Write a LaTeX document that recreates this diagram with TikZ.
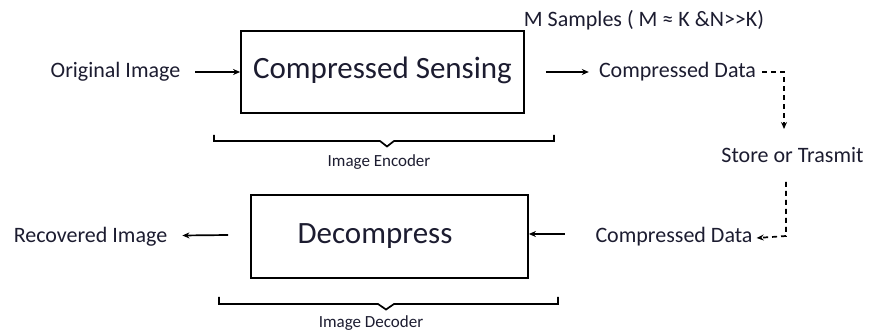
\documentclass[tikz,border=0pt]{standalone}
\usepackage{fontspec}
\setmainfont{Carlito}
\usetikzlibrary{arrows.meta}
\definecolor{txt}{RGB}{28,28,48}
\begin{document}
\begin{tikzpicture}[x=1pt,y=-1pt,
  lbl/.style={inner sep=0pt,text=txt,font=\fontsize{22}{26}\selectfont},
  big/.style={inner sep=0pt,text=txt,font=\fontsize{31}{36}\selectfont},
  small/.style={inner sep=0pt,text=txt,font=\fontsize{17}{20}\selectfont},
  boxx/.style={draw,line width=1.8pt,inner sep=0pt},
  arr/.style={line width=1.7pt,-{Stealth[length=7pt,width=6pt]}},
  darr/.style={line width=1.7pt,dash pattern=on 5pt off 4pt,-{Stealth[length=7pt,width=6pt]}},
  brc/.style={line width=1.7pt}]
\useasboundingbox (0,0) rectangle (872,336);
% top row
\node[lbl] (orig) at (115.5,72) {Original Image};
\node[boxx,minimum width=283pt,minimum height=82pt] (cs) at (382.5,72) {};
\node[big] (cst) at (382.5,70) {Compressed Sensing};
\node[lbl] (cd1) at (677.5,72) {Compressed Data};
\node[lbl] (ms) at (644,20) {M Samples ( M ≈ K \&N>{}>K)};
\node[lbl] (store) at (792.5,155) {Store or Trasmit};
% bottom row
\node[lbl] (rec) at (90.5,237) {Recovered Image};
\node[boxx,minimum width=277pt,minimum height=83pt] (dec) at (389.5,236.5) {};
\node[big] (dect) at (375,236) {Decompress};
\node[lbl] (cd2) at (674,237) {Compressed Data};
% connectors
\draw[arr] ([xshift=15pt]orig.east) -- (cs.west);
\draw[arr] ([xshift=21pt]cs.east) -- ([xshift=-10pt]cd1.west);
\coordinate (t1) at (784,72);
\coordinate (t2) at (784,129);
\draw[darr] ([xshift=6pt]cd1.east) -- (t1) -- (t2);
\coordinate (b1) at (786,182);
\coordinate (b2) at (786,236);
\draw[darr] (b1) -- (b2) -- ([xshift=4pt,yshift=-1pt]cd2.east);
\draw[arr] ([xshift=36pt,yshift=2.5pt]dec.east) -- ([yshift=2.5pt]dec.east);
\draw[arr] ([xshift=-22pt,yshift=1.5pt]dec.west) -- ([xshift=15pt,yshift=1.5pt]rec.east);
% braces
\draw[brc] (214,135) -- (214,141) -- (380,141) -- (387,146.5) -- (394,141) -- (554,141) -- (554,135);
\node[small] (enc) at (379,162) {Image Encoder};
\draw[brc] (219,297) -- (219,304) -- (378,304) -- (386,309.5) -- (394,304) -- (558,304) -- (558,297);
\node[small] (decl) at (371,323) {Image Decoder};
\end{tikzpicture}
\end{document}
